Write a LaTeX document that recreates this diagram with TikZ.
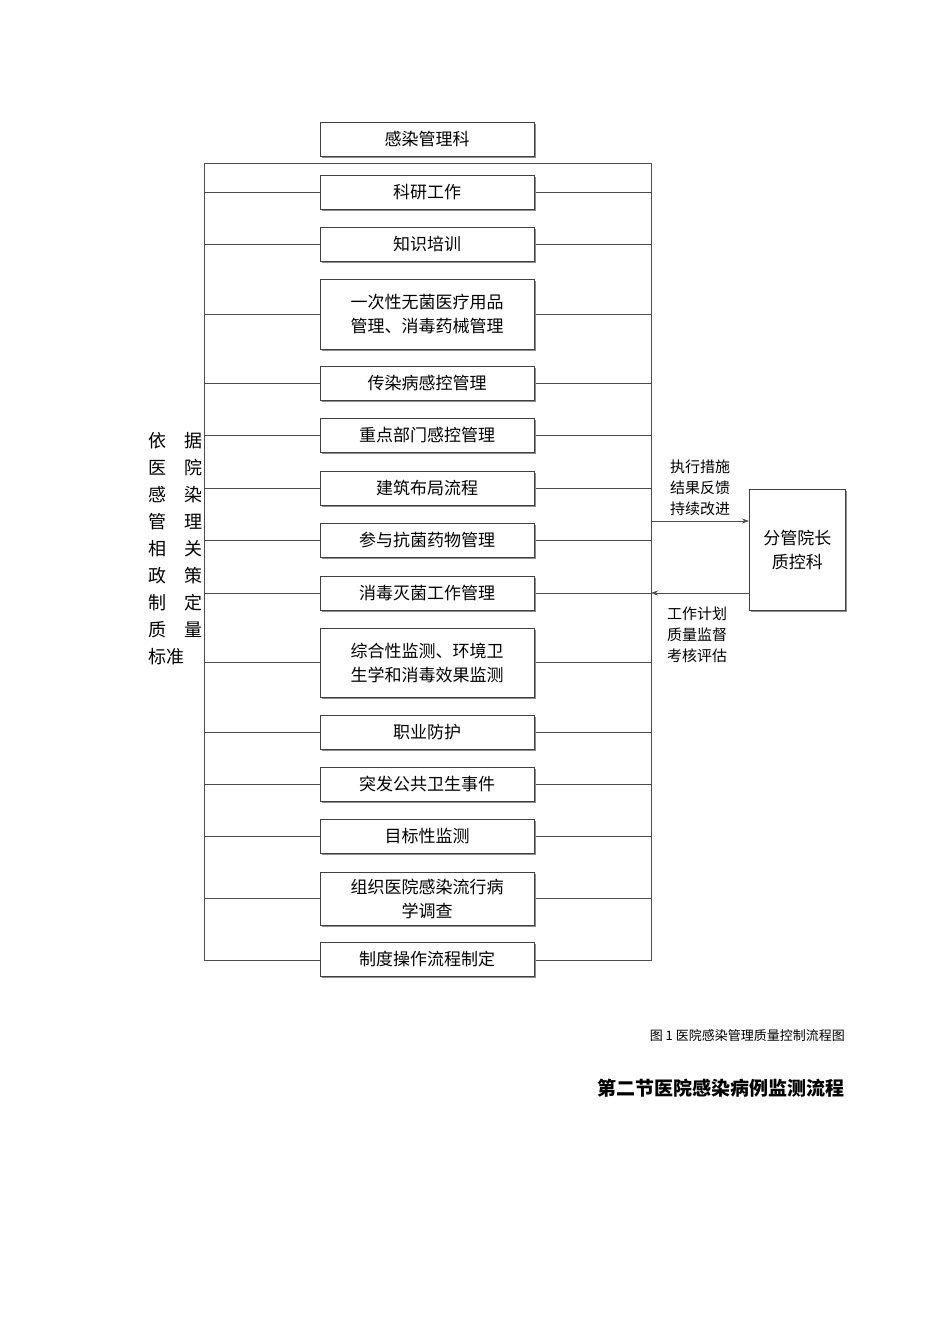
\documentclass[tikz,border=0pt]{standalone}
\usepackage{fontspec}
\setmainfont{Noto Sans CJK SC}
\newfontfamily\cjk{Noto Sans CJK SC}
\usetikzlibrary{arrows.meta,shadows}
\begin{document}
\begin{tikzpicture}[x=1pt,y=-1pt,
  bx/.style={draw=black!75,fill=white,line width=0.6pt,minimum width=214pt,align=center,
    font=\fontsize{17}{24}\selectfont\cjk,inner sep=1pt,
    drop shadow={shadow xshift=1.5pt,shadow yshift=-1.5pt,fill=black!45,opacity=1}},
  ln/.style={draw=black!70,line width=0.6pt},
  lbl/.style={font=\fontsize{15}{21}\selectfont\cjk,align=center,inner sep=0pt}]
\useasboundingbox (0,0) rectangle (950,1344);
% frame lines
\draw[ln] (204,163) -- (651,163) -- (651,960) -- (204,960) -- cycle;
\foreach \y in {192,244,314,383,435,488,540,593,662,732,784,836,898}{
  \draw[ln] (204,\y) -- (651,\y);}
% boxes
\foreach \n/\a/\b/\t in {
 b1/122/156/{感染管理科},
 b2/175/209/{科研工作},
 b3/227/261/{知识培训},
 b4/279/349/{一次性无菌医疗用品\\管理、消毒药械管理},
 b5/366/400/{传染病感控管理},
 b6/418/452/{重点部门感控管理},
 b7/471/505/{建筑布局流程},
 b8/523/557/{参与抗菌药物管理},
 b9/576/610/{消毒灭菌工作管理},
 b10/628/697/{综合性监测、环境卫\\生学和消毒效果监测},
 b11/715/749/{职业防护},
 b12/767/801/{突发公共卫生事件},
 b13/819/853/{目标性监测},
 b14/872/925/{组织医院感染流行病\\学调查},
 b15/942/976/{制度操作流程制定}}{
  \pgfmathsetmacro\h{\b-\a}
  \node[bx,minimum height=\h pt,anchor=north] (\n) at (427,\a) {\t};
}
% right box
\node[bx,minimum width=96pt,minimum height=121pt,anchor=north west] (r) at (749,489) {分管院长\\质控科};
\coordinate (c1) at (651,521);
\coordinate (c2) at (651,593);
\draw[ln,-{Stealth[length=7pt,width=5pt]}] (c1) -- (r.west |- c1);
\draw[ln,-{Stealth[length=7pt,width=5pt]}] (r.west |- c2) -- (c2);
\node[lbl] (t1) at (700,488) {执行措施\\结果反馈\\持续改进};
\node[lbl] (t2) at (697,635) {工作计划\\质量监督\\考核评估};
% left text
\foreach \i/\t in {0/依\quad 据,1/医\quad 院,2/感\quad 染,3/管\quad 理,4/相\quad 关,5/政\quad 策,6/制\quad 定,7/质\quad 量}{
  \node[font=\fontsize{18}{20}\selectfont\cjk,anchor=west,inner sep=0pt] (l\i) at (148,441+27*\i) {\t};}
\node[font=\fontsize{18}{20}\selectfont\cjk,anchor=west,inner sep=0pt] (l8) at (148,657) {标准};
% captions
\node[font=\fontsize{13}{15}\selectfont\cjk,anchor=east,inner sep=0pt] (cap) at (845,1036) {图 1 医院感染管理质量控制流程图};
\node[font=\fontsize{19}{22}\selectfont\cjk\bfseries,anchor=east,inner sep=0pt] (hd) at (845,1088) {第二节医院感染病例监测流程};
\end{tikzpicture}
\end{document}
